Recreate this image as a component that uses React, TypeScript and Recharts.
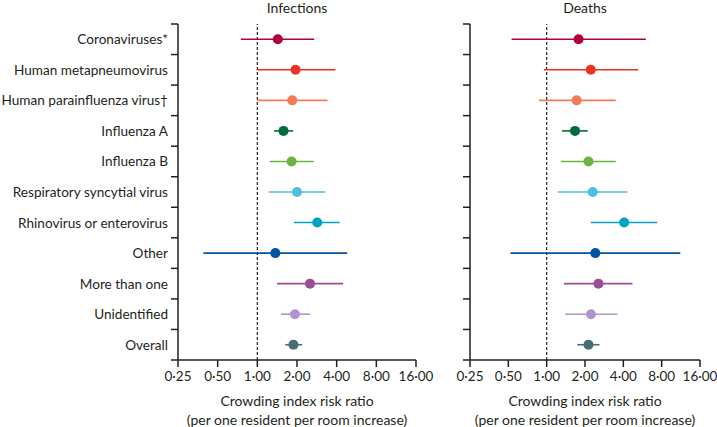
import React from 'react';
import { ScatterChart, Scatter, XAxis, YAxis, ErrorBar, ReferenceLine } from 'recharts';

const categories = [
  'Coronaviruses*',
  'Human metapneumovirus',
  'Human parainfluenza virus†',
  'Influenza A',
  'Influenza B',
  'Respiratory syncytial virus',
  'Rhinovirus or enterovirus',
  'Other',
  'More than one',
  'Unidentified',
  'Overall',
];

const colors = [
  '#b2003b', '#ee3126', '#f47b57', '#006b3c', '#6cb33f', '#4cbfe0',
  '#00a2c4', '#0055a2', '#9a4e94', '#b293cf', '#4a6a74',
];

// risk ratios and 95% CI, infections
const infRR = [1.43, 1.95, 1.84, 1.58, 1.82, 2.0, 2.85, 1.37, 2.51, 1.93, 1.88];
const infLow = [0.75, 0.99, 1.0, 1.34, 1.24, 1.22, 1.9, 0.39, 1.41, 1.51, 1.63];
const infHigh = [2.7, 3.92, 3.41, 1.87, 2.69, 3.27, 4.21, 4.81, 4.48, 2.51, 2.19];

// deaths
const deathRR = [1.78, 2.22, 1.72, 1.67, 2.13, 2.3, 4.06, 2.41, 2.55, 2.23, 2.13];
const deathLow = [0.53, 0.95, 0.87, 1.32, 1.3, 1.23, 2.22, 0.52, 1.37, 1.4, 1.74];
const deathHigh = [6.01, 5.23, 3.49, 2.1, 3.49, 4.31, 7.38, 11.2, 4.72, 3.6, 2.6];

const xTicks = [0.25, 0.5, 1, 2, 4, 8, 16];
const yBounds = [0, 1, 2, 3, 4, 5, 6, 7, 8, 9, 10, 11];

const INK = '#231f20';
const HEIGHT = 427;
const TOP = 24;
const X_AXIS_H = 67;
const BAND = (HEIGHT - TOP - X_AXIS_H) / categories.length;

const fmt = (v: number) => v.toFixed(2).replace('.', '·');

const LabelTick = (props: any) => {
  const { x, y, payload } = props;
  const name = categories[payload.value];
  if (!name) return <g />;
  return (
    <text x={x} y={y + BAND / 2} textAnchor="end" dominantBaseline="central" fill={INK} fontSize={13.6}>
      {name}
    </text>
  );
};

const AxisTitle = (props: any) => {
  const { x, y, width } = props.viewBox;
  const cx = x + width / 2;
  return (
    <text textAnchor="middle" fill={INK} fontSize={14}>
      <tspan x={cx} y={y + 46}>Crowding index risk ratio</tspan>
      <tspan x={cx} y={y + 65}>(per one resident per room increase)</tspan>
    </text>
  );
};

interface PanelProps {
  width: number;
  yWidth: number;
  right: number;
  rr: number[];
  low: number[];
  high: number[];
  labels: boolean;
}

const Panel: React.FC<PanelProps> = ({ width, yWidth, right, rr, low, high, labels }) => (
  <ScatterChart width={width} height={HEIGHT} margin={{ top: TOP, right, left: 0, bottom: 0 }}>
    <XAxis
      type="number"
      dataKey="x"
      scale="log"
      domain={[0.25, 16]}
      ticks={xTicks}
      allowDataOverflow
      interval={0}
      tickFormatter={fmt}
      height={X_AXIS_H}
      stroke={INK}
      strokeWidth={1.5}
      tickSize={7}
      tickMargin={4}
      tick={{ fill: INK, fontSize: 13.5 }}
      label={{ content: AxisTitle }}
    />
    <YAxis
      type="number"
      dataKey="y"
      domain={[0, 11]}
      ticks={yBounds}
      reversed
      interval={0}
      width={yWidth}
      stroke={INK}
      strokeWidth={1.5}
      tickSize={7}
      tickMargin={3}
      tick={labels ? LabelTick : () => <g />}
    />
    <ReferenceLine x={1} stroke={INK} strokeWidth={1.2} strokeDasharray="3 2" />
    {categories.map((c, i) => (
      <Scatter
        key={c}
        name={c}
        data={[{ x: rr[i], y: i + 0.5, err: [rr[i] - low[i], high[i] - rr[i]] }]}
        fill={colors[i]}
        isAnimationActive={false}
        shape={(p: any) => <circle cx={p.cx} cy={p.cy} r={5} fill={colors[i]} />}
      >
        <ErrorBar dataKey="err" direction="x" width={0} stroke={colors[i]} strokeWidth={1.6} isAnimationActive={false} />
      </Scatter>
    ))}
  </ScatterChart>
);

const titleStyle: React.CSSProperties = {
  position: 'absolute',
  top: 0,
  width: 160,
  textAlign: 'center',
  fontSize: 14,
  lineHeight: '15px',
  color: INK,
};

export default function App() {
  return (
    <div style={{ position: 'absolute', left: 0, top: 0, width: 717, height: HEIGHT, fontFamily: 'Lato', background: '#fff' }}>
      <div style={{ ...titleStyle, left: 297 - 80 }}>Infections</div>
      <div style={{ ...titleStyle, left: 585 - 80 }}>Deaths</div>
      <div style={{ position: 'absolute', left: 0, top: 0 }}>
        <Panel width={450} yWidth={178} right={34} rr={infRR} low={infLow} high={infHigh} labels />
      </div>
      <div style={{ position: 'absolute', left: 420, top: 0 }}>
        <Panel width={297} yWidth={50} right={17} rr={deathRR} low={deathLow} high={deathHigh} labels={false} />
      </div>
    </div>
  );
}
